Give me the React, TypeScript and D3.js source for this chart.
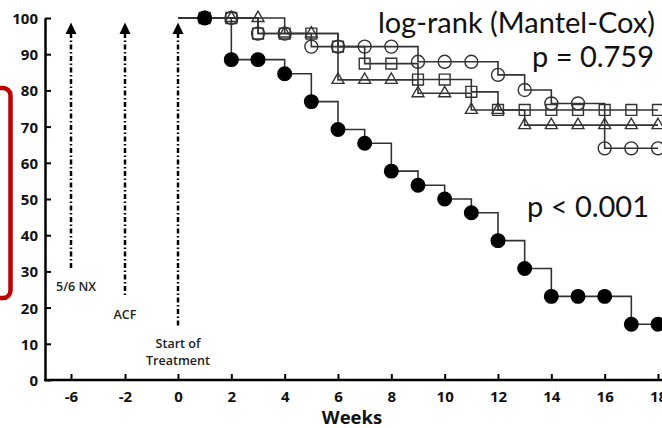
import React, { useEffect, useRef } from 'react'
import * as d3 from 'd3'

// survival data, % alive per week
const weeks = [1, 2, 3, 4, 5, 6, 7, 8, 9, 10, 11, 12, 13, 14, 15, 16, 17, 18]
const filledCircles = [100, 88.5, 88.5, 84.6, 76.9, 69.2, 65.4, 57.7, 53.8, 50, 46.2, 38.5, 30.8, 23.1, 23.1, 23.1, 15.4, 15.4]
const openCircles = [100, 100, 95.7, 95.7, 92.1, 92.1, 92.1, 92.1, 87.9, 87.9, 87.9, 84.3, 80.1, 76.4, 76.4, 64, 64, 64]
const openSquares = [100, 100, 95.7, 95.7, 95.7, 92.1, 87.4, 87.4, 83, 83, 79.6, 74.6, 74.6, 74.6, 74.6, 74.6, 74.6, 74.6]
const openTriangles = [100, 100, 100, 95.7, 95.7, 82.9, 82.9, 82.9, 79.2, 79.2, 74.6, 74.6, 70.4, 70.4, 70.4, 70.4, 70.4, 70.4]

const xTicks = [-6, -2, 0, 2, 4, 6, 8, 10, 12, 14, 16, 18]
const yTicks = [0, 10, 20, 30, 40, 50, 60, 70, 80, 90, 100]

// events before treatment: week, label lines, where the arrow line stops (y value)
const eventWeeks = [-6, -2, 0]
const eventLabels = [['5/6 NX'], ['ACF'], ['Start of', 'Treatment']]
const eventLineEnds = [30.7, 22.9, 14.9]

const statTexts = ['log-rank (Mantel-Cox)', 'p = 0.759', 'p < 0.001']

export default function App() {
    const ref = useRef<SVGSVGElement>(null)

    useEffect(() => {
        const svg = d3.select(ref.current)
        svg.selectAll('*').remove()

        // x axis is not even: pre-treatment weeks are squeezed
        const x = d3.scaleLinear()
            .domain([-6, -2, 0, 18])
            .range([71, 125, 178, 658])

        const y = d3.scaleLinear()
            .domain([0, 100])
            .range([380, 18])

        const ink = '#000'
        const lineCol = '#333'
        const tickFont = '"Open Sans", sans-serif'
        const textFont = 'Lato, "Open Sans", sans-serif'

        // red bracket on the left
        svg.append('path')
            .attr('d', 'M -5 88 H 3 A 7.5 7.5 0 0 1 10.5 95.5 V 290.5 A 7.5 7.5 0 0 1 3 298 H -5')
            .attr('fill', 'none')
            .attr('stroke', '#c00000')
            .attr('stroke-width', 4.5)

        // axes
        const xAxis = svg.append('g').attr('transform', `translate(0, ${y(0)})`)
        xAxis.call(d3.axisBottom(x).tickValues(xTicks).tickSizeInner(-6).tickSizeOuter(0).tickFormat(d => `${d}`))
        xAxis.select('.domain').attr('d', `M${x(-6) - 27},0H${x(18) + 30}`)

        const yAxis = svg.append('g').attr('transform', `translate(45, 0)`)
        yAxis.call(d3.axisLeft(y).tickValues(yTicks).tickSizeInner(-6).tickSizeOuter(0))

        svg.selectAll('.domain')
            .attr('stroke', ink)
            .attr('stroke-width', 2.5)
        svg.selectAll('.tick line')
            .attr('stroke', ink)
            .attr('stroke-width', 2)

        xAxis.selectAll('.tick text')
            .attr('y', 22)
            .attr('dy', 0)
            .attr('font-family', tickFont)
            .attr('font-weight', 700)
            .attr('font-size', 15)
            .attr('fill', '#111')
        yAxis.selectAll('.tick text')
            .attr('x', -7)
            .attr('dy', '0.36em')
            .attr('font-family', tickFont)
            .attr('font-weight', 700)
            .attr('font-size', 15)
            .attr('fill', '#111')

        svg.append('text')
            .attr('x', 352)
            .attr('y', 424)
            .attr('text-anchor', 'middle')
            .attr('font-family', tickFont)
            .attr('font-weight', 700)
            .attr('font-size', 18.5)
            .attr('fill', '#111')
            .text('Weeks')

        // dash-dot arrows for the events
        eventWeeks.forEach((w, i) => {
            const cx = x(w)
            svg.append('line')
                .attr('x1', cx).attr('x2', cx)
                .attr('y1', 33).attr('y2', y(eventLineEnds[i]))
                .attr('stroke', ink)
                .attr('stroke-width', 2.5)
                .attr('stroke-dasharray', '5,2.5,1.5,2.5')
            svg.append('path')
                .attr('d', `M${cx},22.5 L${cx + 5.5},34 L${cx - 5.5},34 Z`)
                .attr('fill', ink)

            eventLabels[i].forEach((t, j) => {
                svg.append('text')
                    .attr('x', cx + (i === 0 ? 5 : 0))
                    .attr('y', y(eventLineEnds[i]) + 22 + j * 17)
                    .attr('text-anchor', 'middle')
                    .attr('font-family', tickFont)
                    .attr('font-weight', 600)
                    .attr('font-size', 12.5)
                    .attr('fill', '#222')
                    .text(t)
            })
        })

        // step curves
        const line = d3.line<[number, number]>()
            .x(d => x(d[0]))
            .y(d => y(d[1]))
            .curve(d3.curveStepAfter)

        const series = [
            { vals: openTriangles, sym: d3.symbolTriangle, size: 62, fill: 'none' },
            { vals: openSquares, sym: d3.symbolSquare, size: 118, fill: 'none' },
            { vals: openCircles, sym: d3.symbolCircle, size: 132, fill: 'none' },
            { vals: filledCircles, sym: d3.symbolCircle, size: 145, fill: ink },
        ]

        series.forEach(s => {
            const pts: [number, number][] = [[0, 100], ...weeks.map((w, i) => [w, s.vals[i]] as [number, number])]
            svg.append('path')
                .datum(pts)
                .attr('d', line)
                .attr('fill', 'none')
                .attr('stroke', lineCol)
                .attr('stroke-width', 1.6)
        })

        series.forEach(s => {
            const sym = d3.symbol().type(s.sym).size(s.size)
            svg.append('g')
                .selectAll('path')
                .data(weeks)
                .enter()
                .append('path')
                .attr('transform', (w, i) => `translate(${x(w)}, ${y(s.vals[i])})`)
                .attr('d', sym)
                .attr('fill', s.fill)
                .attr('stroke', s.fill === 'none' ? lineCol : ink)
                .attr('stroke-width', 1.4)
        })

        // log-rank text
        const stat = svg.append('g')
            .attr('font-family', textFont)
            .attr('font-size', 29)
            .attr('fill', '#111')
            .attr('text-anchor', 'end')
        stat.append('text').attr('x', 655).attr('y', 33).text(statTexts[0])
        stat.append('text').attr('x', 654).attr('y', 67).text(statTexts[1])
        stat.append('text').attr('x', 649).attr('y', 217).text(statTexts[2])
    }, [])

    return (
        <div>
            <svg ref={ref} width={662} height={428}
                style={{ position: 'absolute', left: 0, top: 0, background: '#fff' }} />
        </div>
    )
}
